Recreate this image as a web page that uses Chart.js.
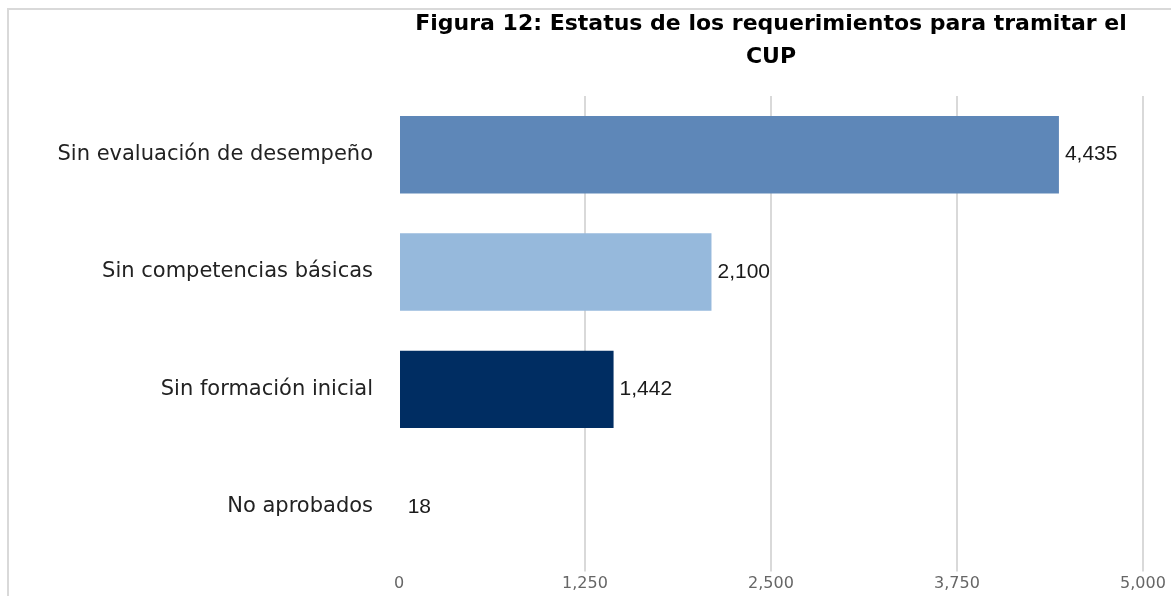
<!DOCTYPE html>
<html>
<head>
<meta charset="utf-8">
<script src="https://cdn.jsdelivr.net/npm/chart.js@4"></script>
<style>
  html, body { margin: 0; padding: 0; background: #fff; }
  #wrap { position: relative; width: 1171px; height: 596px; }
  #frame { position: absolute; left: 7px; top: 8px; right: -5px; bottom: -5px;
           border-left: 2px solid #d9d9d9; border-top: 2px solid #d9d9d9; }
  canvas { position: absolute; left: 0; top: 0; }
</style>
</head>
<body>
<div id="wrap">
  <div id="frame"></div>
  <canvas id="chart" width="1171" height="596"></canvas>
</div>
<script>
// data
const categories = ['Sin evaluación de desempeño', 'Sin competencias básicas', 'Sin formación inicial', 'No aprobados'];
const values = [4435, 2100, 1442, 18];
// last bar is not visible in the original figure
const barColors = ['#5e87b8', '#96b9dc', '#002d62', 'rgba(0,0,0,0)'];
const titleLines = ['Figura 12: Estatus de los requerimientos para tramitar el', 'CUP'];

// draws value at end of every bar
const valueLabels = {
    id: 'valueLabels',
    afterDatasetsDraw(chart) {
        let ctx = chart.ctx;
        let meta = chart.getDatasetMeta(0);
        ctx.save();
        ctx.font = '21px "Liberation Sans", Arial, sans-serif';
        ctx.fillStyle = '#1a1a1a';
        ctx.textBaseline = 'middle';
        ctx.textAlign = 'left';
        meta.data.forEach((bar, i) => {
            let txt = values[i].toLocaleString('en-US');
            ctx.fillText(txt, bar.x + 6, bar.y);
        });
        ctx.restore();
    }
};

let ctx = document.getElementById('chart').getContext('2d');
new Chart(ctx, {
    type: 'bar',
    data: {
        labels: categories,
        datasets: [{
            data: values,
            backgroundColor: barColors,
            categoryPercentage: 1,
            barPercentage: 0.66
        }]
    },
    options: {
        indexAxis: 'y',
        responsive: false,
        animation: false,
        layout: { padding: { top: 0, right: 28, bottom: 0, left: 0 } },
        plugins: {
            legend: { display: false },
            tooltip: { enabled: false },
            title: {
                display: true,
                fullSize: false,
                text: titleLines,
                color: '#000',
                font: { family: '"DejaVu Sans", sans-serif', size: 22, weight: 'bold', lineHeight: 1.5 },
                padding: { top: 8, bottom: 22 }
            }
        },
        scales: {
            x: {
                min: 0,
                max: 5000,
                afterFit: s => { s.height = 30; },
                ticks: {
                    stepSize: 1250,
                    color: '#666',
                    padding: 3,
                    font: { family: '"DejaVu Sans", sans-serif', size: 16 }
                },
                grid: {
                    color: c => c.index === 0 ? 'rgba(0,0,0,0)' : '#d9d9d9',
                    lineWidth: 2,
                    tickLength: 6
                },
                border: { display: false }
            },
            y: {
                afterFit: s => { s.width = 399; },
                ticks: {
                    color: '#222',
                    padding: 18,
                    font: { family: '"DejaVu Sans", sans-serif', size: 21 }
                },
                grid: { display: false },
                border: { display: false }
            }
        }
    },
    plugins: [valueLabels]
});
</script>
</body>
</html>
